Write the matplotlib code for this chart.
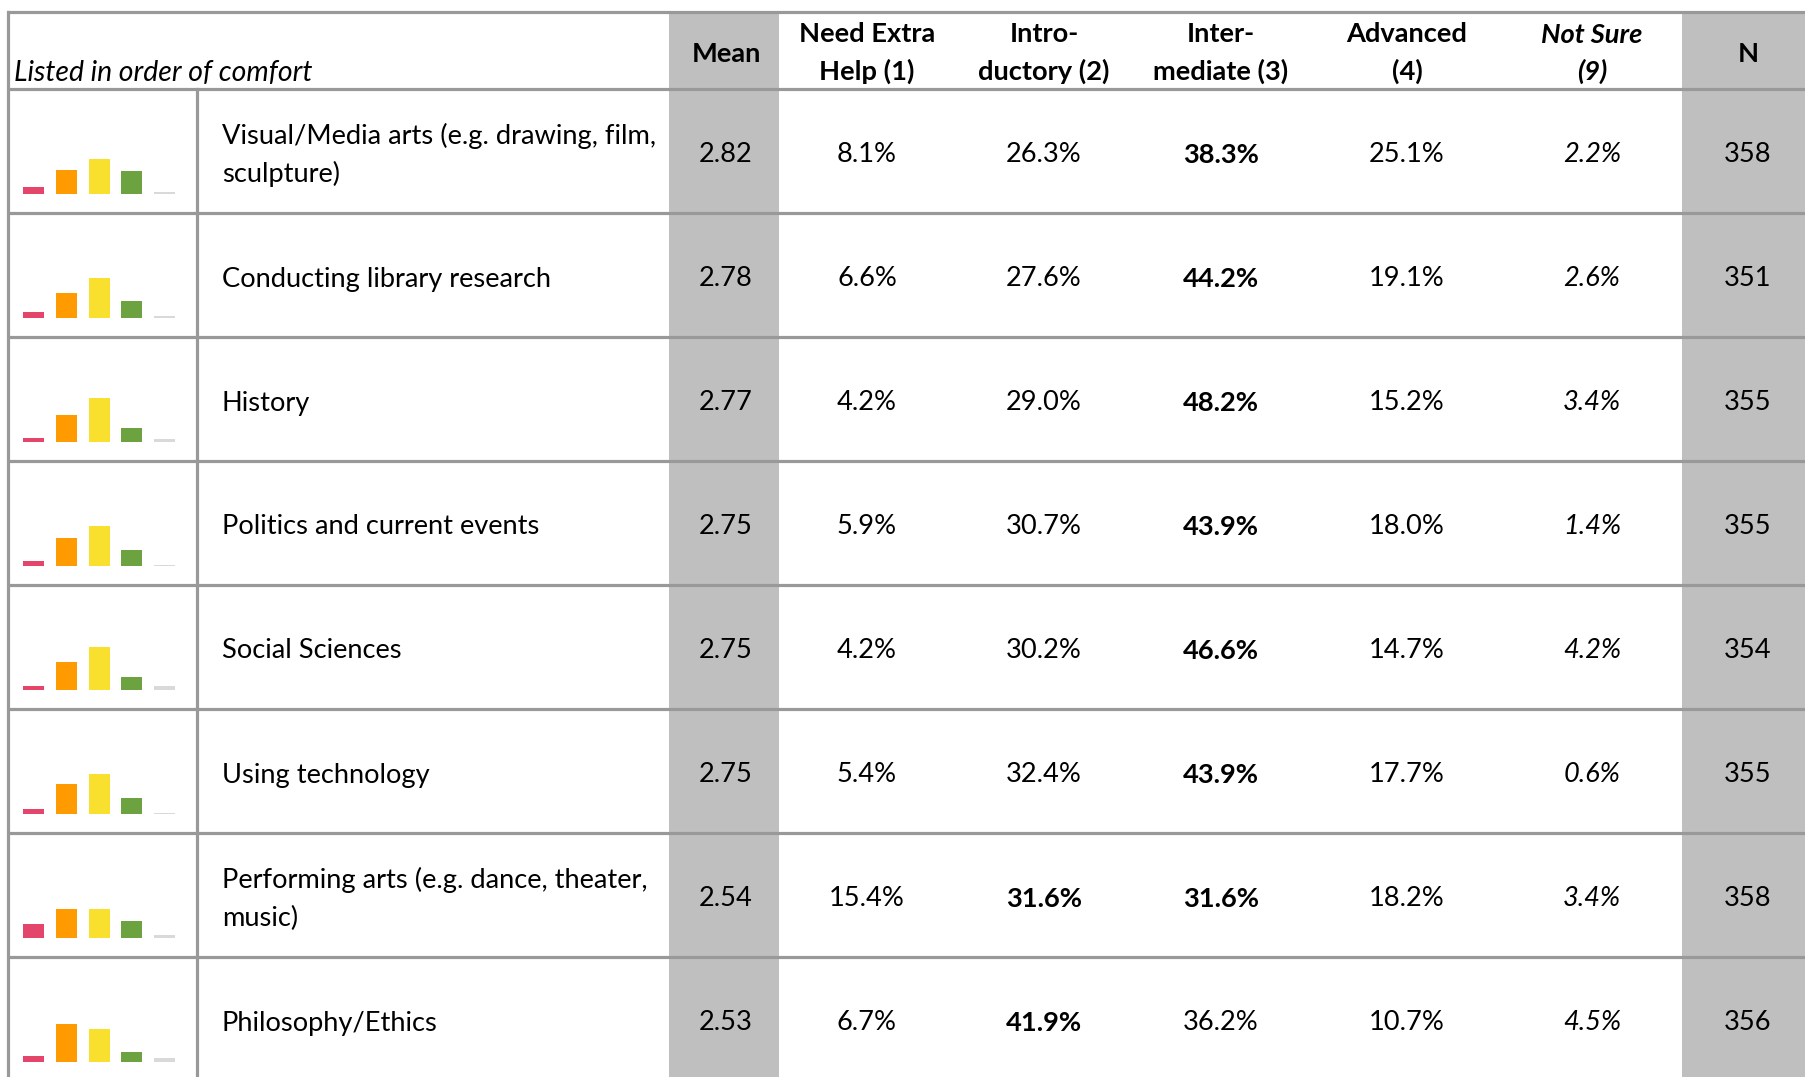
import matplotlib
matplotlib.use("Agg")
import matplotlib.pyplot as plt
from matplotlib.patches import Rectangle

# ---------------- data ----------------
topics = [
    "Visual/Media arts (e.g. drawing, film,\nsculpture)",
    "Conducting library research",
    "History",
    "Politics and current events",
    "Social Sciences",
    "Using technology",
    "Performing arts (e.g. dance, theater,\nmusic)",
    "Philosophy/Ethics",
]
means = [2.82, 2.78, 2.77, 2.75, 2.75, 2.75, 2.54, 2.53]
need_extra = [8.1, 6.6, 4.2, 5.9, 4.2, 5.4, 15.4, 6.7]
introductory = [26.3, 27.6, 29.0, 30.7, 30.2, 32.4, 31.6, 41.9]
intermediate = [38.3, 44.2, 48.2, 43.9, 46.6, 43.9, 31.6, 36.2]
advanced = [25.1, 19.1, 15.2, 18.0, 14.7, 17.7, 18.2, 10.7]
not_sure = [2.2, 2.6, 3.4, 1.4, 4.2, 0.6, 3.4, 4.5]
n_resp = [358, 351, 355, 355, 354, 355, 358, 356]

headers = ["Mean", "Need Extra\nHelp (1)", "Intro-\nductory (2)", "Inter-\nmediate (3)",
           "Advanced\n(4)", "Not Sure\n(9)", "N"]
corner_label = "Listed in order of comfort"
bar_colors = ["#E4456B", "#FF9A00", "#F9E02E", "#6DA241", "#D9D9D9"]

# ---------------- layout (pixels) ----------------
W, H = 1806, 1077
FONT = "Lato"
FS = 19.6
LINE = "#999999"
GREY = "#BFBFBF"
top_y, head_y, row_h = 12, 89, 124
left_x, spark_x, label_x = 8, 197, 222
mean_col = (669, 779)
n_col = (1682, 1806)
col_centers = [726, 867, 1044, 1221, 1407, 1592, 1748]

fig = plt.figure(figsize=(W / 100, H / 100), dpi=100)
ax = fig.add_axes([0, 0, 1, 1])
ax.set_xlim(0, W)
ax.set_ylim(H, 0)
ax.axis("off")

# grey columns
for c0, c1 in (mean_col, n_col):
    ax.add_patch(Rectangle((c0, top_y), c1 - c0, H - top_y, color=GREY, zorder=0, lw=0))

# horizontal lines
nrows = len(topics)
ax.plot([left_x - 1, W], [top_y, top_y], color=LINE, lw=2.3, zorder=2, solid_capstyle="butt")
for i in range(nrows + 1):
    y = head_y + i * row_h
    ax.plot([left_x - 1, W], [y, y], color=LINE, lw=2.3, zorder=2, solid_capstyle="butt")
# vertical lines
ax.plot([left_x, left_x], [top_y, H], color=LINE, lw=2.3, zorder=2)
ax.plot([spark_x, spark_x], [head_y, H], color=LINE, lw=2.3, zorder=2)

# header
ax.text(14, 73, corner_label, fontsize=20.4, family=FONT, style="italic",
        ha="left", va="center")
for j, h in enumerate(headers):
    italic = "italic" if h.startswith("Not Sure") else "normal"
    ax.text(col_centers[j], 53.5, h, fontsize=FS, family=FONT, weight="bold",
            style=italic, ha="center", va="center", linespacing=1.6)

# rows
for i in range(nrows):
    yc = head_y + i * row_h + row_h / 2 + 4
    ax.text(label_x, yc, topics[i], fontsize=FS, family=FONT, ha="left", va="center",
            linespacing=1.6)
    levels = [need_extra[i], introductory[i], intermediate[i], advanced[i]]
    mx = max(levels)
    ax.text(col_centers[0], yc, f"{means[i]:.2f}", fontsize=FS, family=FONT,
            ha="center", va="center")
    for k, v in enumerate(levels):
        ax.text(col_centers[1 + k], yc, f"{v:.1f}%", fontsize=FS, family=FONT,
                weight="bold" if v == mx else "normal", ha="center", va="center")
    ax.text(col_centers[5], yc, f"{not_sure[i]:.1f}%", fontsize=FS, family=FONT,
            style="italic", ha="center", va="center")
    ax.text(col_centers[6], yc, f"{n_resp[i]}", fontsize=FS, family=FONT,
            ha="center", va="center")

    # sparkline bars
    base = head_y + (i + 1) * row_h - 19
    sh = 60
    sax = fig.add_axes([left_x / W, 1 - base / H, (spark_x - left_x) / W, sh / H])
    vals = [need_extra[i], introductory[i], intermediate[i], advanced[i], not_sure[i]]
    sax.bar(range(5), vals, width=0.64, color=bar_colors, linewidth=0)
    sax.set_xlim(-0.779, 4.99)
    sax.set_ylim(0, sh / 0.914)
    sax.axis("off")

fig.savefig("out.png", dpi=100)
